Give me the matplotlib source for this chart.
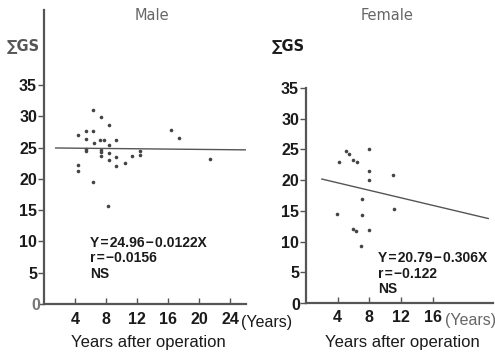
import matplotlib
matplotlib.use("Agg")
import matplotlib.pyplot as plt
import numpy as np

# ---- data ----
male_years = [6.3, 7.4, 8.35, 4.35, 5.4, 6.3, 5.4, 6.4, 7.2, 7.8, 9.3, 8.35,
              5.4, 5.4, 7.4, 7.4, 8.35, 7.4, 9.3, 8.35, 11.35, 12.35, 12.35,
              10.4, 9.3, 4.35, 4.35, 6.3, 8.3, 16.35, 17.45, 21.4]
male_gs = [31.0, 29.9, 28.6, 27.0, 27.7, 27.7, 26.3, 25.7, 26.2, 26.2, 26.2, 25.4,
           24.8, 24.5, 24.6, 24.3, 24.1, 23.6, 23.5, 23.0, 23.7, 24.4, 23.8,
           22.6, 22.0, 22.3, 21.3, 19.5, 15.6, 27.8, 26.5, 23.2]
female_years = [8.0, 5.05, 5.47, 4.13, 5.97, 6.48, 8.0, 11.0, 8.0, 7.07, 3.95,
                7.07, 11.07, 5.97, 6.27, 8.0, 6.94]
female_gs = [25.1, 24.7, 24.3, 22.9, 23.2, 23.0, 21.5, 20.9, 20.1, 16.9, 14.5,
             14.4, 15.3, 12.0, 11.7, 11.9, 9.2]
male_fit = (24.96, -0.0122)
female_fit = (20.79, -0.306)
male_xticks = [4, 8, 12, 16, 20, 24]
female_xticks = [4, 8, 12, 16]
yticks = [0, 5, 10, 15, 20, 25, 30, 35]

W, H = 495, 353
fig = plt.figure(figsize=(W / 100, H / 100), dpi=100)
fig.patch.set_facecolor("white")

FAM = ["Liberation Sans", "DejaVu Sans"]
dark = "#1a1a1a"
axc = "#555555"
TS = 11.5


def px(x, y):
    return x / W, 1 - y / H


def style(ax, xticks, xmax, ymax):
    for s in ["top", "right"]:
        ax.spines[s].set_visible(False)
    for s in ["left", "bottom"]:
        ax.spines[s].set_linewidth(1.6)
        ax.spines[s].set_color(axc)
    ax.set_xlim(0, xmax)
    ax.set_ylim(0, ymax)
    ax.set_xticks(xticks)
    ax.set_yticks(yticks)
    ax.set_yticklabels([str(v) if v else "" for v in yticks])
    ax.tick_params(axis="y", direction="out", length=4, width=1, color=axc,
                   labelsize=TS, labelcolor=dark, pad=1)
    ax.tick_params(axis="x", direction="in", length=4, width=1, color=axc,
                   labelsize=TS, labelcolor=dark, pad=6)
    for lab in ax.get_xticklabels() + ax.get_yticklabels():
        lab.set_family(FAM)
        lab.set_weight("bold")
    ax.patch.set_alpha(0)


# Male axes
axm = fig.add_axes([44 / W, (H - 304) / H, 201.5 / W, 294 / H])
style(axm, male_xticks, 26, 47)
axm.plot(male_years, male_gs, "o", ms=2.6, color="#444444", mec="none")
xl = np.array([1.5, 26.0])
axm.plot(xl, male_fit[0] + male_fit[1] * xl, color="#555555", lw=1.0)

# Female axes
axf = fig.add_axes([306 / W, (H - 303) / H, 187 / W, 215 / H])
style(axf, female_xticks, 23.6, 35)
axf.tick_params(axis="x", pad=5)
axf.plot(female_years, female_gs, "o", ms=2.6, color="#444444", mec="none")
xl = np.array([2.0, 23.0])
axf.plot(xl, female_fit[0] + female_fit[1] * xl, color="#555555", lw=1.0)

# zero labels
fig.text(*px(36, 305), "0", ha="center", va="center", fontsize=TS,
         family=FAM, weight="bold", color="#777777")
fig.text(*px(296, 305), "0", ha="center", va="center", fontsize=TS,
         family=FAM, weight="bold", color=dark)

# titles
fig.text(*px(152, 15), "Male", ha="center", va="center", fontsize=10.5,
         color="#666666")
fig.text(*px(387, 16), "Female", ha="center", va="center", fontsize=10.5,
         color="#666666")

# y labels
fig.text(*px(7, 46), "\u2211GS", ha="left", va="center", fontsize=10.5,
         color="#555555", weight="bold")
fig.text(*px(272, 46), "\u2211GS", ha="left", va="center", fontsize=10.5,
         color=dark, weight="bold")

# equations
eqm = ["Y\u200a=\u200a24.96\u200a\u2212\u200a0.0122X", "r\u200a=\u200a\u22120.0156", "NS"]
for i, t in enumerate(eqm):
    fig.text(*px(90, 243 + 15.5 * i), t, ha="left", va="center", fontsize=10,
             family=FAM, weight="bold", color=dark)
eqf = ["Y\u200a=\u200a20.79\u200a\u2212\u200a0.306X", "r\u200a=\u200a\u22120.122", "NS"]
for i, t in enumerate(eqf):
    fig.text(*px(378, 258 + 15.5 * i), t, ha="left", va="center", fontsize=10,
             family=FAM, weight="bold", color=dark)

# (Years) and axis titles
fig.text(*px(241, 323), "(Years)", ha="left", va="center", fontsize=11.5,
         family=FAM, color=dark)
fig.text(*px(445, 321), "(Years)", ha="left", va="center", fontsize=11.5,
         family=FAM, color="#666666")
fig.text(*px(148, 342), "Years after operation", ha="center", va="center",
         fontsize=12, family=FAM, color=dark)
fig.text(*px(402, 343), "Years after operation", ha="center", va="center",
         fontsize=12, family=FAM, color=dark)

fig.savefig("out.png", dpi=100, facecolor="white")
